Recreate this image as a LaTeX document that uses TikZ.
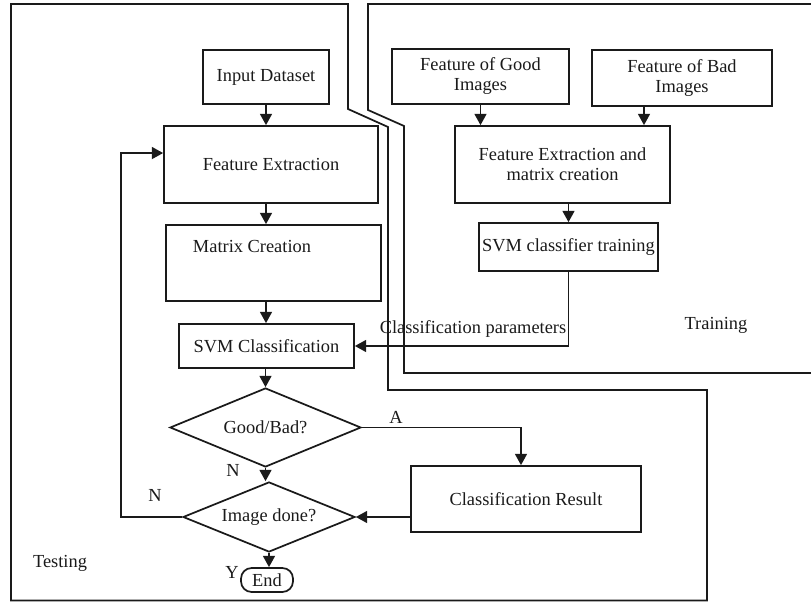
\documentclass[tikz,border=0pt]{standalone}
\usepackage{fontspec}
\setmainfont{Liberation Serif}
\usetikzlibrary{arrows.meta,positioning,calc,shapes.geometric}
\definecolor{Ink}{HTML}{1A1A1A}

\begin{document}
\begin{tikzpicture}[x=0.75pt,y=-0.75pt,>={Triangle[length=8.5pt,width=9pt]},
  every node/.style={font=\fontsize{13.8}{15}\selectfont,text=Ink},
  box/.style={draw=Ink,line width=1.3pt,rectangle,inner sep=0pt,align=center},
  decision/.style={draw=Ink,line width=1.3pt,diamond,inner sep=0pt,aspect=2.4},
  arr/.style={->,draw=Ink,line width=1.3pt},
  frame/.style={draw=Ink,line width=1.3pt}]
\useasboundingbox (0,0) rectangle (811,602);
% outlines of the two parts
\draw[frame] (11,4) -- (348,4) -- (348,109) -- (388,127) -- (388,390) -- (707,390) -- (707,600.5) -- (11,600.5) -- cycle;
\draw[frame] (811,4) -- (368,4) -- (368,110) -- (404,126) -- (404,373) -- (811,373);
\node (testing) at (60,563) {Testing};
\node (training) at (716,325) {Training};
% testing side
\node[box,minimum width=94.5pt,minimum height=40.5pt] (input) at (266,77) {Input Dataset};
\node[box,minimum width=160.5pt,minimum height=57.75pt] (fe) at (271,164.5) {Feature Extraction};
\node[box,minimum width=161.25pt,minimum height=57pt] (mc) at (273.5,263) {};
\node (mctext) at (252,246) {Matrix Creation};
\node[box,minimum width=131.25pt,minimum height=33pt] (svmc) at (266.5,346) {SVM Classification};
\node[decision,minimum width=143.25pt,minimum height=59.25pt] (gb) at (265.5,427.5) {Good/Bad?};
\node[decision,minimum width=129pt,minimum height=52.5pt] (done) at (269,517) {Image done?};
\node[box,rounded corners=8pt,minimum width=39pt,minimum height=18pt] (end) at (267,580) {End};
\node[box,minimum width=172.5pt,minimum height=49.5pt] (cr) at (526,499) {Classification Result};
% training side
\node[box,minimum width=132.75pt,minimum height=41.25pt] (good) at (480.5,76.5) {Feature of Good\\Images};
\node[box,minimum width=135pt,minimum height=42pt] (bad) at (682,78) {Feature of Bad\\Images};
\node[box,minimum width=161.25pt,minimum height=57.75pt] (femc) at (562.5,164.5) {Feature Extraction and\\matrix creation};
\node[box,minimum width=134.25pt,minimum height=36pt] (svmt) at (568.5,247) {SVM classifier training};
% flow
\draw[arr] (input.south) -- (input.south |- fe.north);
\draw[arr] (input.south |- fe.south) -- (input.south |- mc.north);
\draw[arr] (input.south |- mc.south) -- (input.south |- svmc.north);
\draw[arr] (svmc.south -| gb.north) -- (gb.north);
\draw[arr] (gb.south) -- (gb.south |- done.north);
\node (nlow) at (233,470) {N};
\draw[arr] (done.south) -- (done.south |- end.north);
\node (yes) at (232,572) {Y};
\draw[arr] (done.west) -- ++(-61,0) |- ([yshift=8.6pt]fe.west);
\node (nleft) at (155,495) {N};
\draw[arr] (gb.east) -| ([xshift=-3.75pt]cr.north);
\node (alab) at (396,417) {A};
\draw[arr] (cr.west |- done.east) -- (done.east);
\draw[arr] (good.south) -- (good.south |- femc.north);
\draw[arr] ([xshift=-28.5pt]bad.south) -- ([xshift=-28.5pt]bad.south |- femc.north);
\draw[arr] (svmt.north |- femc.south) -- (svmt.north);
\draw[arr] (svmt.south) |- (svmc.east);
\node (params) at (473,329) {Classification parameters};
\end{tikzpicture}
\end{document}
